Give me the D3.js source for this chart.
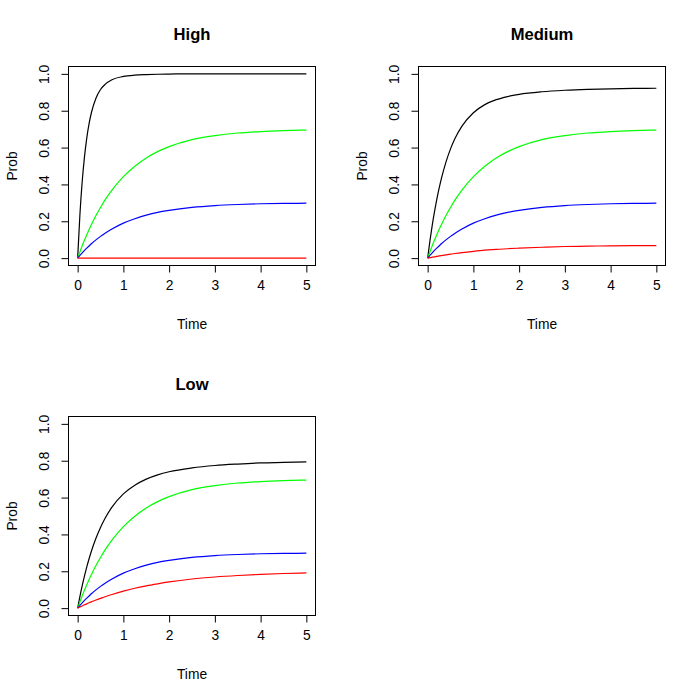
<!DOCTYPE html>
<html>
<head>
<meta charset="utf-8">
<script src="https://cdnjs.cloudflare.com/ajax/libs/d3/7.8.5/d3.min.js"></script>
<style>
  body { margin: 0; background: #fff; }
  svg { display: block; font-family: "Liberation Sans", Arial, Helvetica, sans-serif; }
</style>
</head>
<body>
<script>
// values
var times = [0, 0.05, 0.1, 0.15, 0.2, 0.25, 0.3, 0.4, 0.5, 0.6, 0.75, 1, 1.25, 1.5, 1.75, 2, 2.5, 3, 3.5, 4, 4.5, 5];

var panelTitles = ["High", "Medium", "Low"];
var xTicks = [0, 1, 2, 3, 4, 5];
var yTicks = [0, 0.2, 0.4, 0.6, 0.8, 1.0];
var xLabel = "Time";
var yLabel = "Prob";

var highBlack = [0, 0.238, 0.417, 0.551, 0.653, 0.730, 0.789, 0.868, 0.915, 0.943, 0.968, 0.986, 0.993, 0.996, 0.998, 0.999, 1.0, 1.0, 1.0, 1.0, 1.0, 1.0];
var highGreen = [0, 0.034, 0.067, 0.098, 0.127, 0.155, 0.181, 0.231, 0.275, 0.316, 0.369, 0.442, 0.499, 0.544, 0.578, 0.605, 0.643, 0.665, 0.679, 0.687, 0.692, 0.695];
var highBlue  = [0, 0.015, 0.029, 0.042, 0.054, 0.066, 0.078, 0.099, 0.118, 0.135, 0.158, 0.190, 0.214, 0.233, 0.248, 0.259, 0.275, 0.285, 0.291, 0.295, 0.297, 0.298];
var highRed   = [0, 0, 0, 0, 0, 0, 0, 0, 0, 0, 0, 0, 0, 0, 0, 0, 0, 0, 0, 0, 0, 0];

var mediumBlack = [0, 0.094, 0.178, 0.252, 0.319, 0.378, 0.431, 0.521, 0.593, 0.650, 0.716, 0.789, 0.833, 0.860, 0.877, 0.889, 0.903, 0.911, 0.916, 0.919, 0.921, 0.922];
var mediumGreen = [0, 0.034, 0.067, 0.098, 0.127, 0.155, 0.181, 0.231, 0.275, 0.316, 0.369, 0.442, 0.499, 0.544, 0.578, 0.605, 0.643, 0.665, 0.679, 0.687, 0.692, 0.695];
var mediumBlue  = [0, 0.015, 0.029, 0.042, 0.054, 0.066, 0.078, 0.099, 0.118, 0.135, 0.158, 0.190, 0.214, 0.233, 0.248, 0.259, 0.275, 0.285, 0.291, 0.295, 0.297, 0.298];
var mediumRed   = [0, 0.003, 0.005, 0.007, 0.010, 0.012, 0.014, 0.018, 0.022, 0.025, 0.030, 0.037, 0.043, 0.047, 0.051, 0.054, 0.059, 0.063, 0.065, 0.067, 0.068, 0.068];

var lowBlack = [0, 0.064, 0.122, 0.175, 0.224, 0.268, 0.309, 0.379, 0.438, 0.488, 0.548, 0.620, 0.667, 0.700, 0.723, 0.740, 0.761, 0.774, 0.782, 0.788, 0.791, 0.794];
var lowGreen = [0, 0.034, 0.067, 0.098, 0.127, 0.155, 0.181, 0.231, 0.275, 0.316, 0.369, 0.442, 0.499, 0.544, 0.578, 0.605, 0.643, 0.665, 0.679, 0.687, 0.692, 0.695];
var lowBlue  = [0, 0.015, 0.029, 0.042, 0.054, 0.066, 0.078, 0.099, 0.118, 0.135, 0.158, 0.190, 0.214, 0.233, 0.248, 0.259, 0.275, 0.285, 0.291, 0.295, 0.297, 0.298];
var lowRed   = [0, 0.006, 0.012, 0.018, 0.023, 0.029, 0.034, 0.044, 0.053, 0.062, 0.074, 0.092, 0.108, 0.121, 0.132, 0.142, 0.158, 0.169, 0.177, 0.183, 0.188, 0.191];

var lineColors = ["#000000", "#00ff00", "#0000ff", "#ff0000"];

var svg = d3.select("body").append("svg")
  .attr("width", 700)
  .attr("height", 700);

svg.append("rect").attr("width", 700).attr("height", 700).attr("fill", "#fff");

drawPanel(0, 0, panelTitles[0], [highBlack, highGreen, highBlue, highRed]);
drawPanel(350, 0, panelTitles[1], [mediumBlack, mediumGreen, mediumBlue, mediumRed]);
drawPanel(0, 350, panelTitles[2], [lowBlack, lowGreen, lowBlue, lowRed]);

function drawPanel(ox, oy, title, series) {
  var left = ox + 68.5, right = ox + 315.5, top = oy + 66.5, bottom = oy + 265.5;

  var x = d3.scaleLinear().domain([-0.2, 5.2]).range([left, right]);
  var y = d3.scaleLinear().domain([-0.04, 1.04]).range([bottom, top]);

  var g = svg.append("g");

  var line = d3.line()
    .x(function(d, i) { return x(times[i]); })
    .y(function(d) { return y(d); })
    .curve(d3.curveMonotoneX);

  series.forEach(function(s, i) {
    g.append("path")
      .attr("d", line(s))
      .attr("fill", "none")
      .attr("stroke", lineColors[i])
      .attr("stroke-width", 1.2);
  });

  // box
  g.append("rect")
    .attr("x", left).attr("y", top)
    .attr("width", right - left).attr("height", bottom - top)
    .attr("fill", "none")
    .attr("stroke", "#000")
    .attr("stroke-width", 1);

  // x axis
  var xAxis = g.append("g")
    .attr("transform", "translate(0," + bottom + ")")
    .call(d3.axisBottom(x).tickValues(xTicks).tickSize(7).tickPadding(8).tickFormat(d3.format("d")));
  xAxis.select(".domain").remove();
  xAxis.selectAll("text").attr("font-size", "13.8px").attr("fill", "#000").attr("font-family", null);
  xAxis.append("line")
    .attr("x1", x(xTicks[0])).attr("x2", x(xTicks[xTicks.length - 1]))
    .attr("y1", 0).attr("y2", 0).attr("stroke", "#000");

  // y axis
  var yAxis = g.append("g")
    .attr("transform", "translate(" + left + ",0)")
    .call(d3.axisLeft(y).tickValues(yTicks).tickSize(7).tickFormat(d3.format(".1f")));
  yAxis.select(".domain").remove();
  yAxis.selectAll("text")
    .attr("x", null).attr("dy", null)
    .attr("font-size", "13.8px").attr("fill", "#000").attr("font-family", null)
    .attr("text-anchor", "middle")
    .attr("transform", "translate(-20,0) rotate(-90)");
  yAxis.append("line")
    .attr("x1", 0).attr("x2", 0)
    .attr("y1", y(yTicks[0])).attr("y2", y(yTicks[yTicks.length - 1])).attr("stroke", "#000");

  // labels
  g.append("text")
    .attr("x", (left + right) / 2).attr("y", top - 26.5)
    .attr("text-anchor", "middle")
    .attr("font-size", "16.6px").attr("font-weight", "bold")
    .text(title);

  g.append("text")
    .attr("x", (left + right) / 2).attr("y", bottom + 63.8)
    .attr("text-anchor", "middle")
    .attr("font-size", "13.8px")
    .text(xLabel);

  g.append("text")
    .attr("transform", "translate(" + (left - 51.5) + "," + ((top + bottom) / 2) + ") rotate(-90)")
    .attr("text-anchor", "middle")
    .attr("font-size", "13.8px")
    .text(yLabel);
}
</script>
</body>
</html>
